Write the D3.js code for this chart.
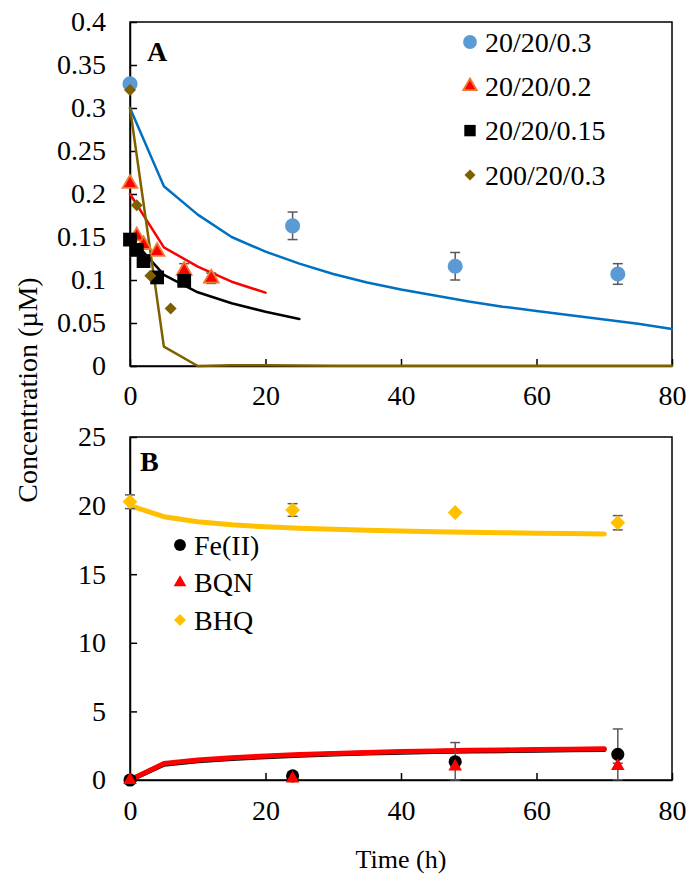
<!DOCTYPE html>
<html>
<head>
<meta charset="utf-8">
<script src="https://cdn.jsdelivr.net/npm/d3@7"></script>
<style>
  html, body { margin: 0; padding: 0; background: #fff; }
  svg text { font-family: "Liberation Serif", "Times New Roman", Times, serif; }
</style>
</head>
<body>
<script>
// ---------------- DATA ----------------
const xTicks = [0, 20, 40, 60, 80];
const yTicksA = [0, 0.05, 0.1, 0.15, 0.2, 0.25, 0.3, 0.35, 0.4];
const yTickLabelsA = ["0", "0.05", "0.1", "0.15", "0.2", "0.25", "0.3", "0.35", "0.4"];
const yTicksB = [0, 5, 10, 15, 20, 25];

// Panel A – measured points
const seriesNamesA = ["20/20/0.3", "20/20/0.2", "20/20/0.15", "200/20/0.3"];
const timeBlue = [0, 24, 48, 72];
const valBlue = [0.328, 0.163, 0.116, 0.107];
const errBlue = [0, 0.016, 0.016, 0.012];
const timeRed = [0, 1, 2, 4, 8, 12];
const valRed = [0.212, 0.151, 0.141, 0.133, 0.111, 0.102];
const errRed = [0, 0, 0, 0, 0.008, 0.006];
const timeBlack = [0, 1, 2, 4, 8];
const valBlack = [0.147, 0.135, 0.122, 0.103, 0.099];
const timeBrown = [0, 1, 3, 6];
const valBrown = [0.321, 0.187, 0.105, 0.067];

// Panel A – model curves
const modelTimeBlue = [0, 5, 10, 15, 20, 25, 30, 35, 40, 45, 50, 55, 60, 65, 70, 75, 80];
const modelBlue = [0.3, 0.209, 0.176, 0.150, 0.133, 0.119, 0.107, 0.097, 0.089, 0.082, 0.075, 0.069, 0.064, 0.059, 0.054, 0.049, 0.043];
const modelTimeRed = [0, 5, 10, 15, 20];
const modelRed = [0.2, 0.138, 0.1155, 0.098, 0.0853];
const modelTimeBlack = [0, 5, 10, 15, 20, 25];
const modelBlack = [0.15, 0.106, 0.0857, 0.073, 0.063, 0.0547];
const modelTimeBrown = [0, 5, 10, 15, 20, 25, 30, 35, 40, 45, 50, 55, 60, 65, 70, 75, 80];
const modelBrown = [0.3, 0.0225, 0, 0.0008, 0.0008, 0.0006, 0.0004, 0.0002, 0.0002, 0.0002, 0.0002, 0.0002, 0.0002, 0.0002, 0.0002, 0.0002, 0.0002];

// Panel B – measured points
const seriesNamesB = ["Fe(II)", "BQN", "BHQ"];
const timeB = [0, 24, 48, 72];
const valFe = [0, 0.3, 1.33, 1.87];
const errFe = [0, 0, 1.4, 1.85];
const valBQN = [0, 0.1, 0.97, 1.02];
const errBQN = [0, 0, 0, 0.2];
const valBHQ = [20.28, 19.68, 19.5, 18.75];
const errBHQ = [0.5, 0.46, 0, 0.52];

// Panel B – model curves
const modelTimeB = [0, 5, 10, 15, 20, 25, 30, 35, 40, 45, 50, 55, 60, 65, 70];
const modelFe = [0, 1.15, 1.4, 1.57, 1.7, 1.81, 1.89, 1.96, 2.02, 2.07, 2.11, 2.14, 2.17, 2.2, 2.22];
const modelBQN = [0, 1.2, 1.45, 1.62, 1.75, 1.86, 1.94, 2.01, 2.07, 2.12, 2.16, 2.19, 2.22, 2.25, 2.27];
const modelBHQ = [20.0, 19.19, 18.83, 18.6, 18.45, 18.35, 18.28, 18.21, 18.15, 18.1, 18.06, 18.02, 17.99, 17.96, 17.93];

// ---------------- CHART ----------------
const W = 692, H = 886;
const FONT = 28;        // tick labels, legends, panel letters
const TITLE_FONT = 26;  // x axis title
const YTITLE_FONT = 28; // y axis title
const SERIF = "'Liberation Serif', 'Times New Roman', Times, serif";
const svg = d3.select("body").append("svg").attr("width", W).attr("height", H);

const x = d3.scaleLinear().domain([0, 80]).range([130, 672]);
const yA = d3.scaleLinear().domain([0, 0.4]).range([366, 22]);
const yB = d3.scaleLinear().domain([0, 25]).range([780, 437]);

const errColor = "#595959";

function drawAxes(yScale, yTicks, yFmt, padX) {
  const g = svg.append("g");
  const [y0, y1] = yScale.range();
  g.append("rect")
    .attr("x", x(0)).attr("y", y1)
    .attr("width", x(80) - x(0)).attr("height", y0 - y1)
    .attr("fill", "none").attr("stroke", "#000").attr("stroke-width", 1.5);
  const xa = g.append("g").attr("transform", `translate(0,${y0})`)
    .call(d3.axisBottom(x).tickValues(xTicks).tickSizeInner(-7).tickSizeOuter(0).tickPadding(padX));
  const ya = g.append("g").attr("transform", `translate(${x(0)},0)`)
    .call(d3.axisLeft(yScale).tickValues(yTicks).tickFormat(yFmt).tickSizeInner(-7).tickSizeOuter(0).tickPadding(24));
  [xa, ya].forEach(a => {
    a.attr("font-family", SERIF);
    a.select(".domain").attr("stroke", "#000").attr("stroke-width", 1.5);
    a.selectAll(".tick line").attr("stroke", "#000").attr("stroke-width", 1.5);
    a.selectAll(".tick text").attr("font-size", FONT).attr("fill", "#000")
      .style("font-family", SERIF);
  });
}

drawAxes(yA, yTicksA, (d, i) => yTickLabelsA[i], 19);
drawAxes(yB, yTicksB, d3.format("d"), 20);

function zip(xs, ys) { return xs.map((t, i) => [t, ys[i]]); }

function drawLine(ts, vs, yScale, color, width) {
  const line = d3.line().x(d => x(d[0])).y(d => yScale(d[1]));
  svg.append("path").datum(zip(ts, vs))
    .attr("d", line).attr("fill", "none")
    .attr("stroke", color).attr("stroke-width", width)
    .attr("stroke-linejoin", "round").attr("stroke-linecap", "round");
}

function drawErr(ts, vs, es, yScale) {
  const g = svg.append("g").attr("stroke", errColor).attr("stroke-width", 1.5);
  ts.forEach((t, i) => {
    const e = es[i];
    if (!e) return;
    const lo = Math.max(yScale.domain()[0], vs[i] - e), hi = vs[i] + e;
    const cx = x(t);
    g.append("line").attr("x1", cx).attr("x2", cx).attr("y1", yScale(lo)).attr("y2", yScale(hi));
    g.append("line").attr("x1", cx - 5).attr("x2", cx + 5).attr("y1", yScale(hi)).attr("y2", yScale(hi));
    g.append("line").attr("x1", cx - 5).attr("x2", cx + 5).attr("y1", yScale(lo)).attr("y2", yScale(lo));
  });
}

const symbols = {
  circle: d3.symbol().type(d3.symbolCircle),
  triangle: d3.symbol().type(d3.symbolTriangle),
  square: d3.symbol().type(d3.symbolSquare),
};

function marker(g, kind, cx, cy, size, fill, stroke, sw) {
  let p;
  if (kind === "diamond") {
    p = g.append("path").attr("d", symbols.square.size(size)())
      .attr("transform", `translate(${cx},${cy}) rotate(45)`);
  } else {
    p = g.append("path").attr("d", symbols[kind].size(size)())
      .attr("transform", `translate(${cx},${cy})`);
  }
  p.attr("fill", fill);
  if (stroke) p.attr("stroke", stroke).attr("stroke-width", sw);
  return p;
}

function drawPoints(ts, vs, yScale, kind, size, fill, stroke, sw) {
  const g = svg.append("g");
  ts.forEach((t, i) => marker(g, kind, x(t), yScale(vs[i]), size, fill, stroke, sw));
}

function txt(xp, yp, s, size, extra) {
  const t = svg.append("text").attr("x", xp).attr("y", yp).text(s)
    .attr("font-size", size).style("font-family", SERIF).attr("fill", "#000");
  if (extra) extra(t);
  return t;
}

// ---------- Panel A ----------
const blue = "#5B9BD5", blueLine = "#0070C0", brown = "#7F6000";
drawLine(modelTimeBlue, modelBlue, yA, blueLine, 2.5);
drawLine(modelTimeRed, modelRed, yA, "#FF0000", 2.5);
drawLine(modelTimeBlack, modelBlack, yA, "#000000", 2.5);
drawLine(modelTimeBrown, modelBrown, yA, brown, 2.5);

drawErr(timeBlue, valBlue, errBlue, yA);
drawErr(timeRed, valRed, errRed, yA);

drawPoints(timeBlue, valBlue, yA, "circle", 180, blue);
drawPoints(timeRed, valRed, yA, "triangle", 95, "#FF0000", "#ED7D31", 1.8);
drawPoints(timeBlack, valBlack, yA, "square", 190, "#000");
drawPoints(timeBrown, valBrown, yA, "diamond", 72, brown);

txt(147, 61, "A", FONT, t => t.attr("font-weight", "bold"));

const legA = [
  {name: seriesNamesA[0], kind: "circle", size: 150, fill: blue},
  {name: seriesNamesA[1], kind: "triangle", size: 80, fill: "#FF0000", stroke: "#ED7D31", sw: 1.8},
  {name: seriesNamesA[2], kind: "square", size: 130, fill: "#000"},
  {name: seriesNamesA[3], kind: "diamond", size: 60, fill: brown},
];
const legAg = svg.append("g");
legA.forEach((d, i) => {
  const cy = 42 + i * 44.3;
  marker(legAg, d.kind, 470, cy, d.size, d.fill, d.stroke, d.sw);
  txt(485, cy, d.name, FONT, t => t.attr("dy", "0.35em"));
});

// ---------- Panel B ----------
const gold = "#FFC000";
drawLine(modelTimeB, modelBHQ, yB, gold, 5);
drawLine(modelTimeB, modelFe, yB, "#000", 5);
drawLine(modelTimeB, modelBQN, yB, "#FF0000", 5);

drawErr(timeB, valBHQ, errBHQ, yB);
drawErr(timeB, valFe, errFe, yB);
drawErr(timeB, valBQN, errBQN, yB);

drawPoints(timeB, valBHQ, yB, "diamond", 110, gold);
drawPoints(timeB, valFe, yB, "circle", 135, "#000");
drawPoints(timeB, valBQN, yB, "triangle", 80, "#FF0000");

txt(140, 471, "B", FONT, t => t.attr("font-weight", "bold"));

const legB = [
  {name: seriesNamesB[0], kind: "circle", size: 110, fill: "#000"},
  {name: seriesNamesB[1], kind: "triangle", size: 70, fill: "#FF0000"},
  {name: seriesNamesB[2], kind: "diamond", size: 70, fill: gold},
];
const legBg = svg.append("g");
legB.forEach((d, i) => {
  const cy = 545 + i * 37.5;
  marker(legBg, d.kind, 180, cy, d.size, d.fill);
  txt(194, cy, d.name, FONT, t => t.attr("dy", "0.35em"));
});

// axis titles
svg.append("text").attr("transform", "translate(37,390) rotate(-90)")
  .attr("text-anchor", "middle").attr("font-size", YTITLE_FONT)
  .style("font-family", SERIF).attr("fill", "#000").text("Concentration (µM)");
txt(401, 868, "Time (h)", TITLE_FONT, t => t.attr("text-anchor", "middle"));
</script>
</body>
</html>
